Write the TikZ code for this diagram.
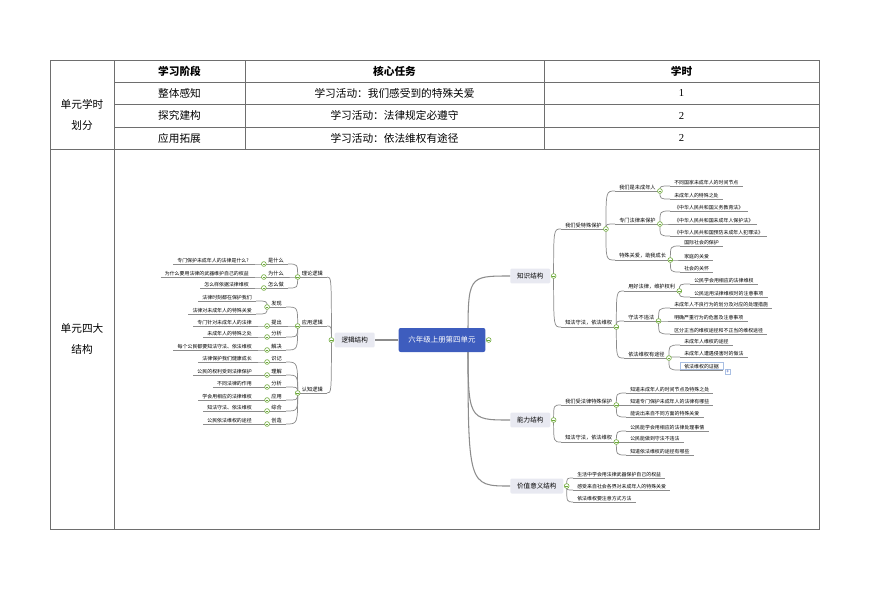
\documentclass[tikz,border=0pt]{standalone}
\usepackage{fontspec}
\setmainfont{Noto Sans CJK SC}
\newfontfamily\numfont{Liberation Serif}

\definecolor{linegray}{HTML}{8C8C8C}
\definecolor{gridgray}{HTML}{6E6E6E}
\definecolor{knobgreen}{HTML}{6EAA3A}
\definecolor{hubblue}{HTML}{3E5DBE}
\definecolor{topfill}{HTML}{E8E9F1}
\definecolor{selblue}{HTML}{A9BFE3}

\begin{document}
\begin{tikzpicture}[x=0.75pt,y=-0.75pt,
  grid/.style={draw=gridgray, line width=0.75pt},
  cell/.style={font=\fontsize{8}{9.6}\selectfont, inner sep=0pt},
  branch/.style={draw=linegray, line width=0.55pt},
  trunk/.style={draw=linegray, line width=0.8pt},
  twig/.style={inner xsep=3pt, inner ysep=0.9pt, font=\fontsize{3.7}{4.4}\selectfont,
    append after command={(\tikzlastnode.south west) edge[branch] (\tikzlastnode.south east)}},
  midtwig/.style={twig, font=\fontsize{3.9}{4.6}\selectfont},
  rtwig/.style={twig, anchor=south west},
  ltwig/.style={twig, anchor=south east},
  rmid/.style={midtwig, anchor=south west},
  lmid/.style={midtwig, anchor=south east},
  topbox/.style={fill=topfill, rounded corners=1pt, inner xsep=5.2pt, minimum height=10.5pt,
    font=\fontsize{4.9}{5.8}\selectfont},
  hubbox/.style={fill=hubblue, text=white, rounded corners=1.5pt, minimum width=65pt,
    minimum height=18pt, font=\fontsize{5.6}{6.6}\selectfont},
  knob/.style={circle, draw=knobgreen, fill=white, line width=0.45pt, minimum size=3.6pt,
    inner sep=0pt, path picture={\draw[knobgreen, line width=0.4pt]
      ([xshift=-1pt]path picture bounding box.center) -- ([xshift=1pt]path picture bounding box.center);}},
]
\useasboundingbox (0,0) rectangle (870,615);

% Table frame
\draw[grid] (50,60) rectangle (819,529);
\draw[grid] (114,60) -- (114,529);
\draw[grid] (50,149) -- (819,149);
\foreach \y in {82,104,127}
  \draw[grid] (114,\y) -- (819,\y);
\foreach \x in {245,544}
  \draw[grid] (\x,60) -- (\x,149);

% Table texts
\node[cell, align=center, font=\fontsize{8}{15.7}\selectfont] (split) at (82,115) {单元学时\\划分};
\node[cell, align=center, font=\fontsize{8}{15.7}\selectfont] (frame) at (82,338.5) {单元四大\\结构};
\node[cell] (stage) at (179.5,71) {\bfseries 学习阶段};
\node[cell] (task) at (394.5,71) {\bfseries 核心任务};
\node[cell] (hours) at (681.5,71) {\bfseries 学时};
\node[cell] (s1) at (179.5,93) {整体感知};
\node[cell] (s2) at (179.5,115.5) {探究建构};
\node[cell] (s3) at (179.5,138) {应用拓展};
\node[cell] (t1) at (394.5,93) {学习活动：我们感受到的特殊关爱};
\node[cell] (t2) at (394.5,115.5) {学习活动：法律规定必遵守};
\node[cell] (t3) at (394.5,138) {学习活动：依法维权有途径};
\node[cell] (n1) at (681.5,93) {\numfont 1};
\node[cell] (n2) at (681.5,115.5) {\numfont 2};
\node[cell] (n3) at (681.5,138) {\numfont 2};

% Main topics
\node[topbox, anchor=east] (logic) at (375,340) {逻辑结构};
\node[topbox, anchor=west] (know) at (510,276) {知识结构};
\node[topbox, anchor=west] (skill) at (510,420) {能力结构};
\node[topbox, anchor=west] (value) at (510,486) {价值意义结构};

\coordinate (hubK) at (468,340);
\foreach \c in {know,skill,value}
  \draw[trunk] (hubK) .. controls (hubK |- \c.west) .. (\c.west);

\node[hubbox] (unit) at (442,340) {六年级上册第四单元};
\draw[trunk] (unit.west) -- (logic.east);

\coordinate (unitK) at ([xshift=2.3pt]unit.east);
\coordinate (logicK) at ([xshift=-2.3pt]logic.west);
\coordinate (knowK) at ([xshift=2.3pt]know.east);
\coordinate (skillK) at ([xshift=2.3pt]skill.east);
\coordinate (valueK) at ([xshift=2.3pt]value.east);

% Knowledge branch
\node[rmid] (prot) at (561,229) {我们受特殊保护};
\node[rmid] (minor) at (615,191) {我们是未成年人};
\node[rtwig] (k1a) at (670,186) {不同国家未成年人的时间节点};
\node[rtwig] (k1b) at (670,199) {未成年人的特殊之处};
\node[rmid] (law) at (615,224) {专门法律来保护};
\node[rtwig] (k2a) at (670,211) {《中华人民共和国义务教育法》};
\node[rtwig] (k2b) at (670,224) {《中华人民共和国未成年人保护法》};
\node[rtwig] (k2c) at (670,236) {《中华人民共和国预防未成年人犯罪法》};
\node[rmid] (care) at (615,260) {特殊关爱，助我成长};
\node[rtwig] (k3a) at (680,246) {国际社会的保护};
\node[rtwig] (k3b) at (680,260) {家庭的关爱};
\node[rtwig] (k3c) at (680,272) {社会的关怀};
\node[rmid] (obey) at (561,327) {知法守法，依法维权};
\node[rmid] (use) at (624,291) {用好法律，维护权利};
\node[rtwig] (k4a) at (690,284) {公民学会用相应的法律维权};
\node[rtwig] (k4b) at (690,297) {公民运用法律维权时的注意事项};
\node[rmid] (nolaw) at (624,321) {守法不违法};
\node[rtwig] (k5a) at (670,308) {未成年人不良行为的划分及对应的处理措施};
\node[rtwig] (k5b) at (670,321) {明确严重行为的危害及注意事项};
\node[rtwig] (k5c) at (670,334) {区分正当的维权途径和不正当的维权途径};
\node[rmid] (way) at (624,358) {依法维权有途径};
\node[rtwig] (k6a) at (680,345) {未成年人维权的途径};
\node[rtwig] (k6b) at (680,357) {未成年人遭遇侵害时的做法};
\node[rtwig, draw=selblue] (k6c) at (680,370) {依法维权的证据};
\node[draw=selblue, fill=white, text=hubblue, inner sep=0pt, minimum size=4pt,
  font=\fontsize{4}{4}\selectfont] (plus) at ([xshift=3.5pt,yshift=-1.2pt]k6c.south east) {+};

% Ability branch
\node[rmid] (ab1) at (561,405) {我们受法律特殊保护};
\node[rtwig] (a1a) at (626,393) {知道未成年人的时间节点及特殊之处};
\node[rtwig] (a1b) at (626,405) {知道专门保护未成年人的法律有哪些};
\node[rtwig] (a1c) at (626,417) {能说出来自不同方面的特殊关爱};
\node[rmid] (ab2) at (561,442) {知法守法，依法维权};
\node[rtwig] (a2a) at (626,431) {公民能学会用相应的法律处理事情};
\node[rtwig] (a2b) at (626,442) {公民能做到守法不违法};
\node[rtwig] (a2c) at (626,455) {知道依法维权的途径有哪些};

% Value branch
\node[rtwig] (v1) at (573,478) {生活中学会用法律武器保护自己的权益};
\node[rtwig] (v2) at (573,490) {感受来自社会各界对未成年人的特殊关爱};
\node[rtwig] (v3) at (573,502) {依法维权要注意方式方法};

% Logic branch
\node[lmid] (theo) at (327,277) {理论逻辑};
\node[lmid] (what) at (288,264) {是什么};
\node[ltwig] (l1) at (253,264) {专门保护未成年人的法律是什么?};
\node[lmid] (why) at (288,277) {为什么};
\node[ltwig] (l2) at (253,277) {为什么要用法律的武器维护自己的权益};
\node[lmid] (how) at (288,288) {怎么做};
\node[ltwig] (l3) at (253,288) {怎么样依据法律维权};
\node[lmid] (apply) at (327,326) {应用逻辑};
\node[lmid] (find) at (286,307) {发现};
\node[ltwig] (l4) at (256,301) {法律时刻都在保护我们};
\node[ltwig] (l5) at (256,314) {法律对未成年人的特殊关爱};
\node[lmid] (raise) at (286,326) {提出};
\node[ltwig] (l6) at (256,326) {专门针对未成年人的法律};
\node[lmid] (probe) at (286,337) {分析};
\node[ltwig] (l7) at (256,337) {未成年人的特殊之处};
\node[lmid] (solve) at (286,350) {解决};
\node[ltwig] (l8) at (256,350) {每个公民都要知法守法、依法维权};
\node[lmid] (cogn) at (327,393) {认知逻辑};
\node[lmid] (c1) at (286,362) {识记};
\node[ltwig] (l9) at (256,362) {法律保护我们健康成长};
\node[lmid] (c2) at (286,375) {理解};
\node[ltwig] (l10) at (256,375) {公民的权利受到法律保护};
\node[lmid] (c3) at (286,387) {分析};
\node[ltwig] (l11) at (256,387) {不同法律的作用};
\node[lmid] (c4) at (286,400) {应用};
\node[ltwig] (l12) at (256,400) {学会用相应的法律维权};
\node[lmid] (c5) at (286,411) {综合};
\node[ltwig] (l13) at (256,411) {知法守法、依法维权};
\node[lmid] (c6) at (286,424) {创造};
\node[ltwig] (l14) at (256,424) {公民依法维权的途径};

% Connectors
\foreach \p/\c in {knowK/prot, knowK/obey, skillK/ab1, skillK/ab2, valueK/v1, valueK/v2, valueK/v3}
  \draw[branch] (\p) .. controls (\p |- \c.south west) .. (\c.south west);
\foreach \p/\c in {prot/minor, prot/law, prot/care, minor/k1a, minor/k1b, law/k2a, law/k2b, law/k2c,
  care/k3a, care/k3b, care/k3c, obey/use, obey/nolaw, obey/way, use/k4a, use/k4b, nolaw/k5a,
  nolaw/k5b, nolaw/k5c, way/k6a, way/k6b, way/k6c, ab1/a1a, ab1/a1b, ab1/a1c, ab2/a2a, ab2/a2b, ab2/a2c}
  \draw[branch] (\p.south east) .. controls (\p.south east |- \c.south west) .. (\c.south west);
\foreach \c in {theo, apply, cogn}
  \draw[branch] (logicK) .. controls (logicK |- \c.south east) .. (\c.south east);
\foreach \p/\c in {theo/what, theo/why, theo/how, what/l1, why/l2, how/l3, apply/find, apply/raise,
  apply/probe, apply/solve, find/l4, find/l5, raise/l6, probe/l7, solve/l8, cogn/c1, cogn/c2, cogn/c3,
  cogn/c4, cogn/c5, cogn/c6, c1/l9, c2/l10, c3/l11, c4/l12, c5/l13, c6/l14}
  \draw[branch] (\p.south west) .. controls (\p.south west |- \c.south east) .. (\c.south east);

% Collapse knobs
\foreach \n in {unitK, logicK, knowK, skillK, valueK}
  \node[knob] (b-\n) at (\n) {};
\foreach \n in {prot, minor, law, care, obey, use, nolaw, way, ab1, ab2}
  \node[knob] (b-\n) at (\n.south east) {};
\foreach \n in {theo, what, why, how, apply, find, raise, probe, solve, cogn, c1, c2, c3, c4, c5, c6}
  \node[knob] (b-\n) at (\n.south west) {};
\end{tikzpicture}
\end{document}
